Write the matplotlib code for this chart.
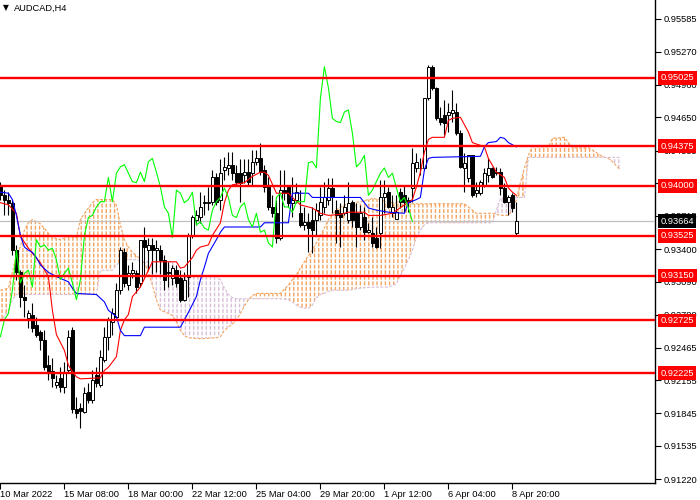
import matplotlib
matplotlib.use('Agg')
import matplotlib.pyplot as plt
import numpy as np

plt.rcParams['font.family'] = ['Liberation Sans', 'DejaVu Sans']

symbol = "AUDCAD,H4"

opens = [0.9401, 0.9391, 0.9387, 0.9384, 0.9339, 0.9318, 0.9295, 0.9275, 0.9278, 0.9268,
         0.9261, 0.9254, 0.9230, 0.9224, 0.9211, 0.9218, 0.9209, 0.9225, 0.9263, 0.9188,
         0.9189, 0.9186, 0.9205, 0.9197, 0.9221, 0.9211, 0.9235, 0.9257, 0.9271, 0.9276,
         0.9301, 0.9337, 0.9306, 0.9317, 0.9317, 0.9308, 0.9349, 0.9339, 0.9344, 0.9339,
         0.9339, 0.9330, 0.9318, 0.9313, 0.9320, 0.9313, 0.9292, 0.9314, 0.9353, 0.9368,
         0.9370, 0.9384, 0.9384, 0.9385, 0.9408, 0.9387, 0.9415, 0.9417, 0.9420, 0.9412,
         0.9412, 0.9410, 0.9413, 0.9412, 0.9423, 0.9426, 0.9415, 0.9399, 0.9380, 0.9374,
         0.9351, 0.9396, 0.9399, 0.9384, 0.9387, 0.9374, 0.9363, 0.9366, 0.9368, 0.9368,
         0.9372, 0.9380, 0.9387, 0.9398, 0.9377, 0.9374, 0.9374, 0.9368, 0.9385, 0.9374,
         0.9361, 0.9370, 0.9356, 0.9355, 0.9351, 0.9355, 0.9389, 0.9394, 0.9374, 0.9369,
         0.9394, 0.9391, 0.9387, 0.9398, 0.9417, 0.9417, 0.9417, 0.9483, 0.9513, 0.9493,
         0.9464, 0.9467, 0.9467, 0.9469, 0.9470, 0.9450, 0.9417, 0.9407, 0.9429, 0.9393,
         0.9393, 0.9401, 0.9410, 0.9417, 0.9413, 0.9413, 0.9398, 0.9385, 0.9391, 0.9355]
highs = [0.9404, 0.9396, 0.9394, 0.9387, 0.9344, 0.9320, 0.9306, 0.9282, 0.9289, 0.9276,
         0.9263, 0.9263, 0.9240, 0.9237, 0.9221, 0.9228, 0.9233, 0.9263, 0.9266, 0.9200,
         0.9194, 0.9209, 0.9213, 0.9225, 0.9228, 0.9244, 0.9266, 0.9276, 0.9284, 0.9308,
         0.9342, 0.9341, 0.9325, 0.9328, 0.9320, 0.9349, 0.9361, 0.9351, 0.9351, 0.9349,
         0.9344, 0.9334, 0.9328, 0.9325, 0.9325, 0.9320, 0.9318, 0.9355, 0.9372, 0.9377,
         0.9394, 0.9391, 0.9399, 0.9415, 0.9412, 0.9425, 0.9427, 0.9432, 0.9432, 0.9420,
         0.9425, 0.9425, 0.9425, 0.9434, 0.9434, 0.9441, 0.9420, 0.9408, 0.9391, 0.9387,
         0.9415, 0.9415, 0.9401, 0.9408, 0.9403, 0.9396, 0.9380, 0.9374, 0.9380, 0.9384,
         0.9399, 0.9404, 0.9407, 0.9407, 0.9387, 0.9384, 0.9391, 0.9404, 0.9387, 0.9384,
         0.9382, 0.9380, 0.9365, 0.9370, 0.9361, 0.9406, 0.9406, 0.9399, 0.9391, 0.9391,
         0.9398, 0.9401, 0.9389, 0.9436, 0.9431, 0.9426, 0.9483, 0.9515, 0.9515, 0.9494,
         0.9475, 0.9481, 0.9479, 0.9491, 0.9479, 0.9453, 0.9431, 0.9429, 0.9429, 0.9404,
         0.9406, 0.9417, 0.9426, 0.9418, 0.9418, 0.9417, 0.9403, 0.9391, 0.9393, 0.9385]
lows = [0.9387, 0.9372, 0.9372, 0.9334, 0.9311, 0.9285, 0.9276, 0.9265, 0.9261, 0.9257,
        0.9244, 0.9225, 0.9216, 0.9209, 0.9208, 0.9205, 0.9204, 0.9223, 0.9185, 0.9180,
        0.9170, 0.9185, 0.9194, 0.9194, 0.9209, 0.9209, 0.9233, 0.9244, 0.9259, 0.9275,
        0.9297, 0.9304, 0.9301, 0.9313, 0.9298, 0.9304, 0.9314, 0.9320, 0.9316, 0.9318,
        0.9316, 0.9301, 0.9304, 0.9306, 0.9304, 0.9290, 0.9291, 0.9295, 0.9351, 0.9363,
        0.9365, 0.9372, 0.9377, 0.9382, 0.9382, 0.9377, 0.9406, 0.9410, 0.9406, 0.9401,
        0.9385, 0.9403, 0.9401, 0.9401, 0.9420, 0.9410, 0.9394, 0.9377, 0.9370, 0.9346,
        0.9349, 0.9387, 0.9380, 0.9370, 0.9384, 0.9361, 0.9358, 0.9337, 0.9336, 0.9352,
        0.9368, 0.9374, 0.9382, 0.9374, 0.9346, 0.9342, 0.9372, 0.9365, 0.9361, 0.9342,
        0.9358, 0.9349, 0.9355, 0.9342, 0.9341, 0.9341, 0.9374, 0.9379, 0.9370, 0.9369,
        0.9379, 0.9375, 0.9375, 0.9385, 0.9413, 0.9410, 0.9415, 0.9481, 0.9491, 0.9462,
        0.9458, 0.9448, 0.9451, 0.9461, 0.9448, 0.9417, 0.9394, 0.9404, 0.9389, 0.9389,
        0.9391, 0.9399, 0.9404, 0.9407, 0.9410, 0.9391, 0.9384, 0.9372, 0.9375, 0.9353]
closes = [0.9391, 0.9387, 0.9384, 0.9339, 0.9318, 0.9295, 0.9292, 0.9279, 0.9265, 0.9259,
          0.9254, 0.9228, 0.9223, 0.9218, 0.9214, 0.9209, 0.9223, 0.9257, 0.9188, 0.9185,
          0.9187, 0.9204, 0.9197, 0.9216, 0.9213, 0.9238, 0.9257, 0.9273, 0.9279, 0.9301,
          0.9339, 0.9308, 0.9317, 0.9320, 0.9304, 0.9349, 0.9342, 0.9344, 0.9339, 0.9341,
          0.9330, 0.9311, 0.9317, 0.9322, 0.9308, 0.9292, 0.9311, 0.9353, 0.9370, 0.9372,
          0.9380, 0.9385, 0.9385, 0.9408, 0.9385, 0.9412, 0.9418, 0.9420, 0.9412, 0.9404,
          0.9403, 0.9413, 0.9404, 0.9423, 0.9426, 0.9413, 0.9399, 0.9380, 0.9374, 0.9351,
          0.9396, 0.9393, 0.9384, 0.9387, 0.9394, 0.9363, 0.9366, 0.9360, 0.9358, 0.9377,
          0.9385, 0.9389, 0.9398, 0.9389, 0.9372, 0.9370, 0.9380, 0.9384, 0.9368, 0.9361,
          0.9374, 0.9356, 0.9358, 0.9346, 0.9342, 0.9389, 0.9393, 0.9380, 0.9380, 0.9375,
          0.9385, 0.9385, 0.9385, 0.9422, 0.9423, 0.9417, 0.9483, 0.9513, 0.9493, 0.9464,
          0.9461, 0.9460, 0.9470, 0.9472, 0.9450, 0.9418, 0.9422, 0.9429, 0.9391, 0.9396,
          0.9404, 0.9412, 0.9417, 0.9408, 0.9412, 0.9398, 0.9385, 0.9389, 0.9379, 0.93664]

# Tenkan-sen (red) read at bar indices
tenkan_bar = [0, 2, 4, 5, 7, 8, 10, 12, 13, 14, 16, 17, 18, 19, 20, 25, 26, 27, 29, 30,
              31, 32, 33, 35, 37, 38, 44, 45, 46, 48, 49, 50, 52, 53, 55, 56, 57, 58, 61, 63,
              65, 66, 67, 69, 72, 73, 75, 78, 80, 82, 85, 87, 91, 92, 95, 98, 101, 103, 104, 105,
              106, 107, 108, 111, 112, 113, 115, 116, 117, 118, 121, 122, 124, 126, 127, 128, 129]
tenkan_val = [0.9384, 0.9382, 0.9374, 0.9352, 0.9341, 0.9336, 0.9327, 0.9314, 0.9282, 0.9259,
              0.9244, 0.9230, 0.9224, 0.9219, 0.9217, 0.9218, 0.9225, 0.9228, 0.9238, 0.9263,
              0.9273, 0.9278, 0.9295, 0.9304, 0.9320, 0.9328, 0.9328, 0.9322, 0.9323, 0.9332,
              0.9339, 0.9342, 0.9344, 0.9353, 0.9365, 0.9384, 0.9396, 0.9401, 0.9403, 0.9409,
              0.9413, 0.9413, 0.9410, 0.9393, 0.9393, 0.9389, 0.9382, 0.9379, 0.9374, 0.9372,
              0.9373, 0.9375, 0.9375, 0.9372, 0.9372, 0.9374, 0.9382, 0.9387, 0.9399, 0.9413,
              0.9432, 0.9444, 0.9446, 0.9446, 0.9462, 0.9464, 0.9465, 0.9458, 0.9451, 0.9441,
              0.9437, 0.9426, 0.9413, 0.9408, 0.9398, 0.9394, 0.9391]

# Kijun-sen (blue) read at bar indices
kijun_bar = [0, 2, 3, 4, 5, 6, 7, 8, 9, 10, 12, 14, 17, 18, 19, 24, 26, 27, 29, 30,
             31, 35, 36, 45, 46, 47, 49, 50, 51, 52, 54, 55, 56, 65, 66, 72, 73, 77, 78, 90,
             91, 92, 94, 97, 101, 102, 104, 105, 106, 107, 108, 120, 121, 122, 124, 125, 126, 127, 129]
kijun_val = [0.9394, 0.9393, 0.9387, 0.9372, 0.9353, 0.9342, 0.9339, 0.9337, 0.9332, 0.9325,
             0.9318, 0.9314, 0.9309, 0.9303, 0.9298, 0.9297, 0.9290, 0.9282, 0.9276, 0.9263,
             0.9258, 0.9258, 0.9266, 0.9266, 0.9273, 0.9280, 0.9295, 0.9311, 0.9323, 0.9336,
             0.9349, 0.9356, 0.9361, 0.9361, 0.9365, 0.9365, 0.9393, 0.9393, 0.9389, 0.9389,
             0.9384, 0.9379, 0.9377, 0.9375, 0.9374, 0.9384, 0.9387, 0.9389, 0.9415, 0.9426,
             0.9427, 0.9428, 0.9437, 0.9441, 0.9442, 0.9446, 0.9445, 0.9441, 0.9437]

# Senkou span A / B (cloud), read at bar indices
cloud_bar = [0, 2, 3, 4, 5, 6, 7, 8, 10, 12, 13, 15, 17, 19, 20, 21, 23, 24, 25, 28,
             29, 30, 31, 32, 33, 34, 35, 36, 37, 38, 39, 40, 42, 43, 44, 45, 46, 47, 50, 54,
             55, 56, 57, 58, 59, 60, 61, 62, 63, 64, 66, 70, 72, 73, 74, 75, 76, 77, 78, 79,
             80, 81, 82, 83, 84, 85, 87, 90, 93, 95, 97, 99, 100, 101, 102, 103, 104, 105, 106, 107,
             116, 117, 118, 119, 123, 124, 125, 127, 128, 129, 130, 131, 132, 133, 137, 138, 141, 142, 143, 147,
             148, 150, 151, 152, 153, 154, 155]
span_a = [0.9301, 0.9303, 0.9318, 0.9335, 0.9342, 0.9358, 0.9365, 0.9368, 0.9364, 0.9355,
          0.9351, 0.9349, 0.9352, 0.9351, 0.9368, 0.9374, 0.9384, 0.9387, 0.9387, 0.9387,
          0.9382, 0.9363, 0.9349, 0.9342, 0.9337, 0.9334, 0.9330, 0.9327, 0.9318, 0.9306,
          0.9292, 0.9282, 0.9279, 0.9277, 0.9271, 0.9263, 0.9258, 0.9256, 0.9255, 0.9256,
          0.9257, 0.9263, 0.9266, 0.9269, 0.9273, 0.9279, 0.9286, 0.9292, 0.9296, 0.9298,
          0.9298, 0.9298, 0.9306, 0.9311, 0.9316, 0.9322, 0.9328, 0.9334, 0.9339, 0.9346,
          0.9353, 0.9360, 0.9368, 0.9373, 0.9377, 0.9380, 0.9383, 0.9385, 0.9388, 0.9387,
          0.9384, 0.9384, 0.9387, 0.9386, 0.9384, 0.9383, 0.9383, 0.9383, 0.9383, 0.9383,
          0.9383, 0.9380, 0.9377, 0.9374, 0.9374, 0.9373, 0.9372, 0.9372, 0.9377, 0.9387,
          0.9403, 0.9417, 0.9429, 0.9437, 0.9437, 0.9445, 0.9446, 0.9441, 0.9436, 0.9436,
          0.9434, 0.9429, 0.9427, 0.9426, 0.9423, 0.9419, 0.9415]
span_b = [0.9271, 0.9282, 0.9292, 0.9297, 0.9297, 0.9297, 0.9297, 0.9297, 0.9297, 0.9297,
          0.9297, 0.9297, 0.9297, 0.9297, 0.9297, 0.9297, 0.9297, 0.9297, 0.9320, 0.9320,
          0.9325, 0.9328, 0.9329, 0.9330, 0.9330, 0.9330, 0.9329, 0.9328, 0.9328, 0.9328,
          0.9328, 0.9328, 0.9328, 0.9328, 0.9314, 0.9314, 0.9314, 0.9314, 0.9314, 0.9314,
          0.9311, 0.9303, 0.9297, 0.9294, 0.9293, 0.9293, 0.9293, 0.9293, 0.9293, 0.9293,
          0.9293, 0.9293, 0.9292, 0.9290, 0.9287, 0.9285, 0.9284, 0.9284, 0.9287, 0.9294,
          0.9297, 0.9298, 0.9300, 0.9301, 0.9301, 0.9301, 0.9301, 0.9303, 0.9304, 0.9304,
          0.9304, 0.9307, 0.9315, 0.9322, 0.9330, 0.9339, 0.9351, 0.9358, 0.9363, 0.9365,
          0.9365, 0.9365, 0.9365, 0.9365, 0.9365, 0.9377, 0.9388, 0.9389, 0.9389, 0.9389,
          0.9389, 0.9389, 0.9427, 0.9427, 0.9427, 0.9427, 0.9427, 0.9427, 0.9427, 0.9427,
          0.9427, 0.9427, 0.9427, 0.9427, 0.9427, 0.9427, 0.9427]

chikou_shift = 26
levels = [0.95025, 0.94375, 0.94000, 0.93525, 0.93150, 0.92725, 0.92225]
last_price = 0.93664
ytick_vals = [0.95585, 0.95270, 0.94960, 0.94650, 0.94335, 0.94025, 0.93715, 0.93400,
              0.93090, 0.92780, 0.92465, 0.92155, 0.91845, 0.91535, 0.91220]
xtick_bars = [0, 16, 32, 48, 64, 80, 96, 112, 128]
xtick_labels = ["10 Mar 2022", "15 Mar 08:00", "18 Mar 00:00", "22 Mar 12:00", "25 Mar 04:00",
                "29 Mar 20:00", "1 Apr 12:00", "6 Apr 04:00", "8 Apr 20:00"]

ORANGE = '#F4A460'
THISTLE = '#D8BFD8'
FS = 6.7

fig = plt.figure(figsize=(7, 5), dpi=100)
ax = fig.add_axes([0.0, 0.0334, 655 / 700, 0.9666])
ax.set_xlim(-0.1, 163.65)
ax.set_ylim(0.91180, 0.95762)

# cloud
cb = np.array(cloud_bar, dtype=float)
sa = np.array(span_a)
sb = np.array(span_b)
with plt.rc_context({'hatch.linewidth': 1.0}):
    ax.fill_between(cb, sa, sb, where=sa >= sb, interpolate=True, facecolor='none',
                    edgecolor=ORANGE, hatch='||||', linewidth=0, zorder=2)
    ax.fill_between(cb, sa, sb, where=sa < sb, interpolate=True, facecolor='none',
                    edgecolor=THISTLE, hatch='||||', linewidth=0, zorder=2)
with plt.rc_context({'hatch.linewidth': 1.2}):
    ax.fill_between(cb, sa, sb, facecolor='none', edgecolor='white', hatch='---',
                    linewidth=0, zorder=2.5)
ax.plot(cb, sa, color=ORANGE, lw=0.8, ls=(0, (2.5, 1.5)), zorder=2.6)
ax.plot(cb, sb, color=THISTLE, lw=0.8, ls=(0, (2.5, 1.5)), zorder=2.6)

# current price line
ax.axhline(last_price, color='#C0C0C0', lw=0.9, zorder=3)

# candles
o = np.array(opens); h = np.array(highs); l = np.array(lows); c = np.array(closes)
xs = np.arange(len(o))
ax.vlines(xs, l, h, color='black', lw=0.8, zorder=4)
bull = c >= o
bottoms = np.minimum(o, c)
heights = np.maximum(np.abs(c - o), 0.00002)
ax.bar(xs[bull], heights[bull], bottom=bottoms[bull], width=0.75, color='white',
       edgecolor='black', linewidth=0.7, zorder=5)
ax.bar(xs[~bull], heights[~bull], bottom=bottoms[~bull], width=0.75, color='black',
       edgecolor='black', linewidth=0.7, zorder=5)

# indicator lines
ax.plot(tenkan_bar, tenkan_val, color='#FF0000', lw=0.8, zorder=6)
ax.plot(kijun_bar, kijun_val, color='#0000FF', lw=0.8, zorder=6)
ax.plot(xs[chikou_shift:] - chikou_shift, c[chikou_shift:], color='#00FF00', lw=0.8, zorder=6)

# horizontal levels
for lv in levels:
    ax.axhline(lv, color='#FF0000', lw=1.7, zorder=7)

# axes styling
for s in ['left', 'top']:
    ax.spines[s].set_visible(False)
for s in ['right', 'bottom']:
    ax.spines[s].set_color('black')
    ax.spines[s].set_linewidth(1.0)
ax.yaxis.tick_right()
ax.set_yticks(ytick_vals)
ax.set_yticklabels([f'{v:.5f}' for v in ytick_vals], fontsize=FS)
ax.tick_params(axis='y', direction='out', length=4, width=0.8, pad=2)
ax.set_xticks(xtick_bars)
ax.set_xticklabels(xtick_labels, fontsize=FS, ha='left')
ax.tick_params(axis='x', direction='out', length=4, width=0.8, pad=1)
for t in ax.get_xticklabels():
    t.set_horizontalalignment('left')

# price boxes on the right scale
for lv in levels:
    ax.annotate(f'{lv:.5f}', xy=(1.0, lv), xycoords=('axes fraction', 'data'),
                xytext=(4, 0), textcoords='offset points', ha='left', va='center',
                fontsize=FS, color='white', annotation_clip=False, zorder=10,
                bbox=dict(boxstyle='square,pad=0.25', fc='#FF0000', ec='none'))
ax.annotate(f'{last_price:.5f}', xy=(1.0, last_price), xycoords=('axes fraction', 'data'),
            xytext=(4, 0), textcoords='offset points', ha='left', va='center',
            fontsize=FS, color='white', annotation_clip=False, zorder=10,
            bbox=dict(boxstyle='square,pad=0.25', fc='black', ec='none'))

# title
fig.text(3 / 700, 1 - 8 / 500, '\u25BC', fontsize=5.5, va='center', ha='left',
         family=['DejaVu Sans'])
fig.text(14 / 700, 1 - 8 / 500, symbol, fontsize=FS, va='center', ha='left')

fig.savefig('out.png', dpi=100)
